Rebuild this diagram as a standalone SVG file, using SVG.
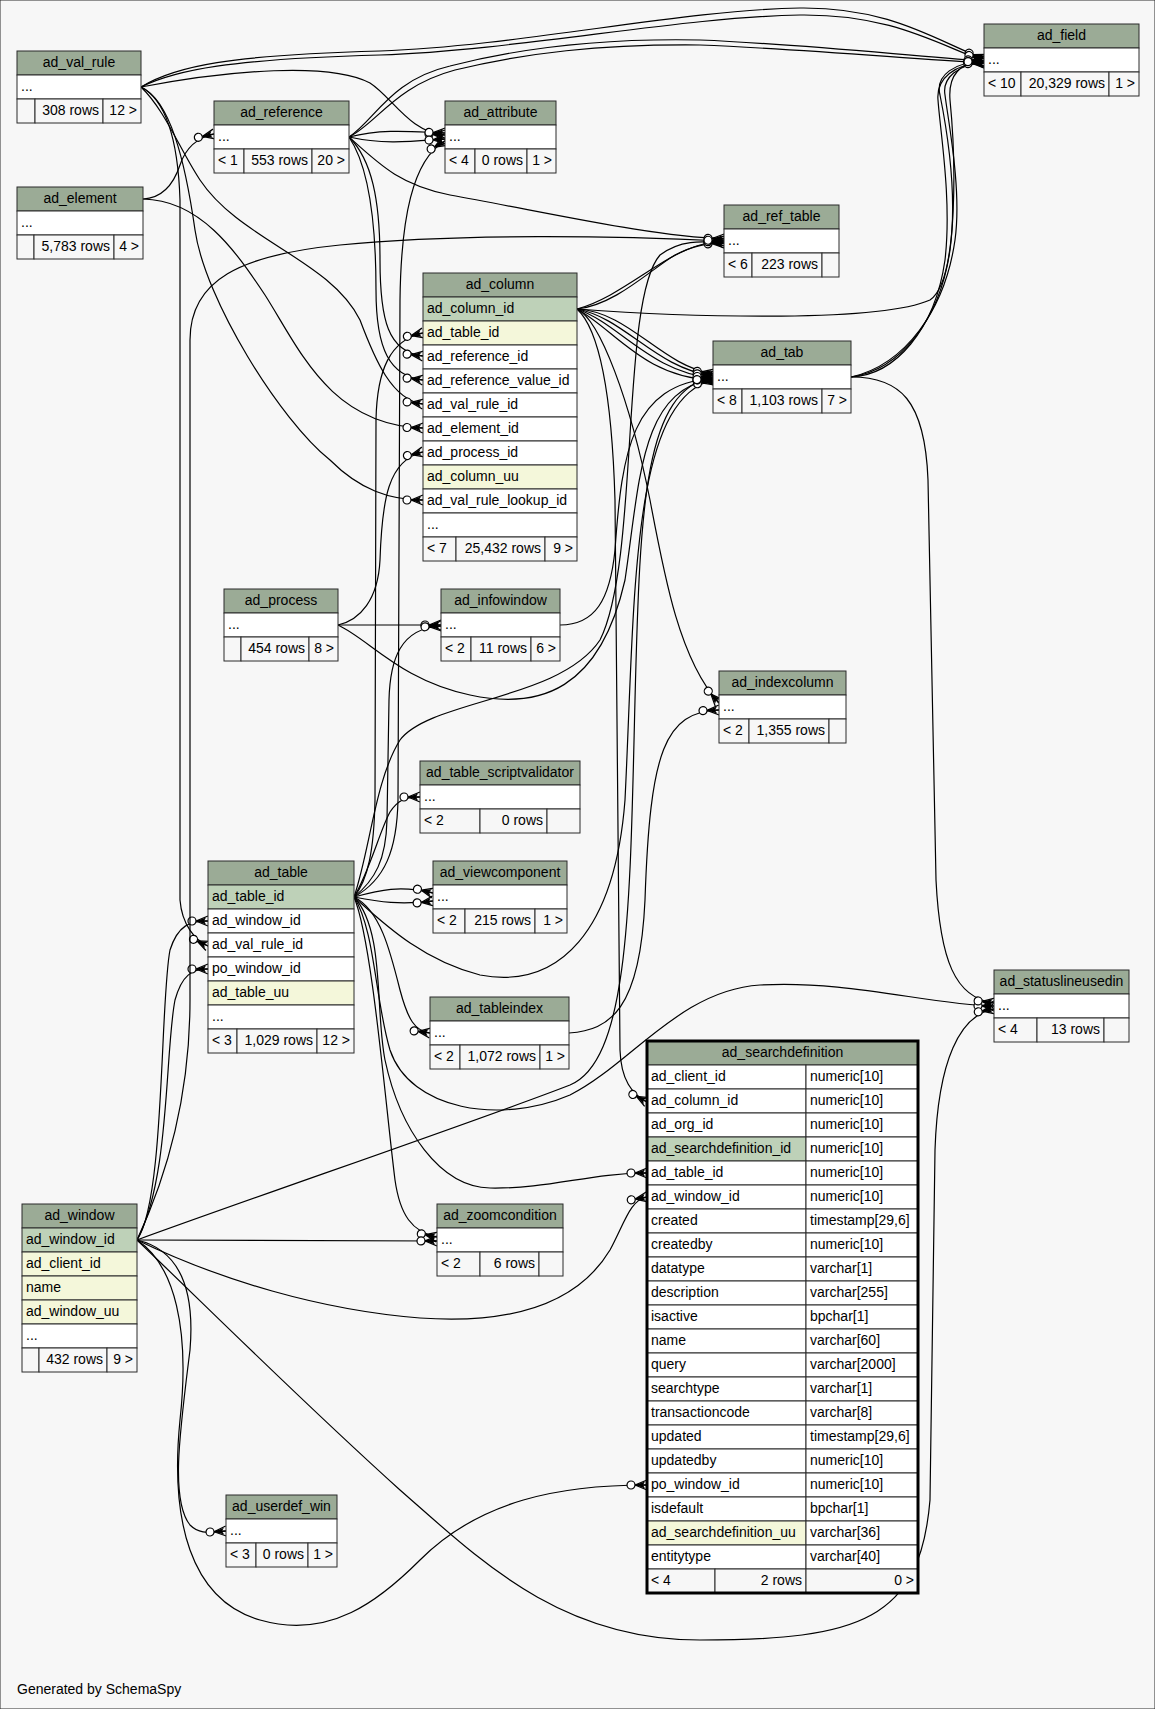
<svg xmlns="http://www.w3.org/2000/svg" width="1155" height="1709" viewBox="0 0 1155 1709">
<defs>
<style>
.h{fill:#9bab96}
.pk{fill:#bed1b8}
.ix{fill:#f4f7da}
.w{fill:#fff}
.f{fill:#f7f7f7}
rect{stroke:#2b2b2b;stroke-width:1}
text{font-family:"Liberation Sans",Arial,sans-serif;font-size:14px;fill:#000}
.m{text-anchor:middle}
.e{text-anchor:end}
.edge{fill:none;stroke:#000;stroke-width:1.2;marker-end:url(#cf)}
</style>
<marker id="cf" markerUnits="userSpaceOnUse" orient="auto" viewBox="-24 -12 26 24" markerWidth="26" markerHeight="24" refX="0" refY="0" overflow="visible">
<path d="M-12,0 L0,-5 M-12,0 L0,0 M-12,0 L0,5" fill="none" stroke="#000" stroke-width="1.3"/>
<path d="M-12,0 L-2,-3.5 L-4,0 L-2,3.5 Z" fill="#000"/>
<circle cx="-16" cy="0" r="4" fill="#fff" stroke="#000" stroke-width="1.2"/>
</marker>
</defs>
<rect x="0" y="0" width="1155" height="1709" fill="#f7f7f7" stroke="none"/>
<g id="edges">
<path class="edge" d="M141,87 C175,66 230,55 380,51 C520,46 680,10 800,8 C890,7 935,40 984,59"/>
<path class="edge" d="M141,87 C175,70 230,59 380,55 C520,50 680,17 800,15 C890,14 935,43 984,61"/>
<path class="edge" d="M349,137 C375,120 390,80 450,66 C520,48 600,38 700,40 C800,44 900,55 984,61"/>
<path class="edge" d="M349,137 C377,123 395,86 455,70 C525,53 600,44 700,45 C800,49 900,58 984,63"/>
<path class="edge" d="M141,87 C230,70 330,62 370,83 C392,97 410,133 445,135"/>
<path class="edge" d="M349,137 C385,128 415,132 445,133"/>
<path class="edge" d="M349,137 C385,145 415,141 445,139"/>
<path class="edge" d="M354,897 C385,880 397,850 398,800 L400,300 C401,220 412,160 445,141"/>
<path class="edge" d="M349,137 C380,165 400,185 450,195 C560,215 650,236 724,239"/>
<path class="edge" d="M349,137 C372,160 380,200 380,260 C380,320 388,352 423,356"/>
<path class="edge" d="M349,137 C368,165 376,220 376,290 C376,350 390,376 423,380"/>
<path class="edge" d="M141,87 C165,110 180,150 200,180 C240,240 330,260 360,320 C375,360 392,400 423,404"/>
<path class="edge" d="M141,87 C170,100 185,160 195,230 C205,300 280,420 330,460 C360,490 390,500 423,500"/>
<path class="edge" d="M141,87 C166,100 178,140 180,200 L180,900 C182,925 195,940 208,946"/>
<path class="edge" d="M143,199 C165,198 175,180 180,165 C185,150 195,138 214,134"/>
<path class="edge" d="M143,199 C200,200 235,250 265,295 C300,350 330,425 423,428"/>
<path class="edge" d="M354,897 C368,880 374,850 375,800 L376,420 C377,370 390,340 423,333"/>
<path class="edge" d="M338,625 C360,620 378,600 380,560 C382,500 388,460 423,452"/>
<path class="edge" d="M338,625 L441,625"/>
<path class="edge" d="M354,897 C375,880 386,860 387,820 L389,700 C390,660 400,628 441,626"/>
<path class="edge" d="M338,625 C370,640 400,680 470,695 C540,710 600,690 625,580 C640,480 640,390 713,379"/>
<path class="edge" d="M560,625 C595,625 610,600 615,550 C622,450 632,385 713,378"/>
<path class="edge" d="M354,897 C380,920 420,960 480,975 C560,990 615,930 625,800 C635,600 630,400 713,380"/>
<path class="edge" d="M137,1240 C260,1195 480,1120 570,1085 C630,1060 630,900 635,700 C640,500 645,390 713,377"/>
<path class="edge" d="M354,897 C375,930 375,1000 390,1050 C410,1110 500,1125 570,1095 C630,1065 680,990 760,985 C850,980 930,1005 994,1006"/>
<path class="edge" d="M851,377 C900,377 925,400 928,480 L936,880 C940,960 955,998 994,1003"/>
<path class="edge" d="M851,377 C900,370 940,320 950,250 C958,190 945,120 940,95 C935,75 955,62 984,61"/>
<path class="edge" d="M851,377 C895,375 935,330 945,260 C952,200 940,130 938,100 C936,78 955,64 984,62"/>
<path class="edge" d="M851,377 C905,365 945,310 955,240 C962,190 948,120 945,95 C942,78 958,64 984,63"/>
<path class="edge" d="M577,309 C700,318 880,322 930,300 C960,280 955,150 950,100 C948,75 960,62 984,61"/>
<path class="edge" d="M577,309 C610,300 640,275 670,258 C690,247 705,242 724,241"/>
<path class="edge" d="M577,309 C615,305 650,270 675,255 C695,245 705,244 724,243"/>
<path class="edge" d="M577,309 C630,312 660,365 713,374"/>
<path class="edge" d="M577,309 C625,318 655,368 713,376"/>
<path class="edge" d="M577,309 C620,324 650,372 713,378"/>
<path class="edge" d="M577,309 C615,330 645,378 713,380"/>
<path class="edge" d="M577,309 C600,320 630,400 650,500 C665,580 680,660 719,703"/>
<path class="edge" d="M569,1033 C610,1030 640,1010 645,900 C650,750 665,712 719,710"/>
<path class="edge" d="M577,309 C600,330 612,400 615,500 L620,1050 C621,1080 632,1094 647,1102"/>
<path class="edge" d="M354,897 C370,850 375,780 400,740 C430,700 560,700 600,640 C640,560 620,300 660,255 C680,240 700,241 724,243"/>
<path class="edge" d="M354,897 C370,870 380,830 390,812 C398,800 405,797 420,797"/>
<path class="edge" d="M354,897 C380,890 400,885 433,893"/>
<path class="edge" d="M354,897 C380,902 400,905 433,901"/>
<path class="edge" d="M354,897 C380,910 390,950 400,990 C408,1020 415,1031 430,1033"/>
<path class="edge" d="M354,897 C372,940 385,1100 395,1180 C400,1215 412,1232 437,1237"/>
<path class="edge" d="M354,897 C385,930 375,1010 385,1060 C400,1130 440,1187 490,1188 C550,1189 590,1173 647,1173"/>
<path class="edge" d="M137,1240 C165,1200 160,1000 170,950 C178,925 190,921 208,921"/>
<path class="edge" d="M137,1240 C170,1180 165,1050 175,1000 C182,975 192,969 208,969"/>
<path class="edge" d="M137,1240 C165,1180 190,1100 190,1000 L190,340 C190,280 240,255 340,245 C460,233 620,236 724,241"/>
<path class="edge" d="M137,1240 L437,1241"/>
<path class="edge" d="M137,1240 C220,1280 320,1310 420,1318 C520,1325 580,1300 610,1250 C625,1222 630,1200 647,1197"/>
<path class="edge" d="M137,1240 C175,1265 190,1330 180,1420 C170,1520 190,1600 260,1620 C330,1640 380,1600 420,1560 C480,1500 560,1485 647,1485"/>
<path class="edge" d="M137,1240 C180,1250 195,1290 190,1350 C180,1430 170,1500 190,1525 C200,1535 210,1532 226,1531"/>
<path class="edge" d="M137,1240 C200,1300 300,1400 400,1490 C480,1560 560,1640 700,1640 C860,1640 920,1620 930,1500 L935,1150 C938,1060 960,1015 994,1009"/>
</g>
<g id="ad_val_rule">
<rect class="h" x="17" y="51" width="124" height="24"/><text class="m" x="79" y="67">ad_val_rule</text>
<rect class="w" x="17" y="75" width="124" height="24"/><text x="21" y="91">...</text>
<rect class="f" x="17" y="99" width="18" height="24"/>
<rect class="f" x="35" y="99" width="68" height="24"/><text class="e" x="99" y="115">308 rows</text>
<rect class="f" x="103" y="99" width="38" height="24"/><text class="e" x="137" y="115">12 &gt;</text>
</g>
<g id="ad_reference">
<rect class="h" x="214" y="101" width="135" height="24"/><text class="m" x="281.5" y="117">ad_reference</text>
<rect class="w" x="214" y="125" width="135" height="24"/><text x="218" y="141">...</text>
<rect class="f" x="214" y="149" width="30" height="24"/><text x="218" y="165">&lt; 1</text>
<rect class="f" x="244" y="149" width="68" height="24"/><text class="e" x="308" y="165">553 rows</text>
<rect class="f" x="312" y="149" width="37" height="24"/><text class="e" x="345" y="165">20 &gt;</text>
</g>
<g id="ad_element">
<rect class="h" x="17" y="187" width="126" height="24"/><text class="m" x="80" y="203">ad_element</text>
<rect class="w" x="17" y="211" width="126" height="24"/><text x="21" y="227">...</text>
<rect class="f" x="17" y="235" width="17" height="24"/>
<rect class="f" x="34" y="235" width="80" height="24"/><text class="e" x="110" y="251">5,783 rows</text>
<rect class="f" x="114" y="235" width="29" height="24"/><text class="e" x="139" y="251">4 &gt;</text>
</g>
<g id="ad_attribute">
<rect class="h" x="445" y="101" width="111" height="24"/><text class="m" x="500.5" y="117">ad_attribute</text>
<rect class="w" x="445" y="125" width="111" height="24"/><text x="449" y="141">...</text>
<rect class="f" x="445" y="149" width="30" height="24"/><text x="449" y="165">&lt; 4</text>
<rect class="f" x="475" y="149" width="52" height="24"/><text class="e" x="523" y="165">0 rows</text>
<rect class="f" x="527" y="149" width="29" height="24"/><text class="e" x="552" y="165">1 &gt;</text>
</g>
<g id="ad_field">
<rect class="h" x="984" y="24" width="155" height="24"/><text class="m" x="1061.5" y="40">ad_field</text>
<rect class="w" x="984" y="48" width="155" height="24"/><text x="988" y="64">...</text>
<rect class="f" x="984" y="72" width="37" height="24"/><text x="988" y="88">&lt; 10</text>
<rect class="f" x="1021" y="72" width="88" height="24"/><text class="e" x="1105" y="88">20,329 rows</text>
<rect class="f" x="1109" y="72" width="30" height="24"/><text class="e" x="1135" y="88">1 &gt;</text>
</g>
<g id="ad_ref_table">
<rect class="h" x="724" y="205" width="115" height="24"/><text class="m" x="781.5" y="221">ad_ref_table</text>
<rect class="w" x="724" y="229" width="115" height="24"/><text x="728" y="245">...</text>
<rect class="f" x="724" y="253" width="28" height="24"/><text x="728" y="269">&lt; 6</text>
<rect class="f" x="752" y="253" width="70" height="24"/><text class="e" x="818" y="269">223 rows</text>
<rect class="f" x="822" y="253" width="17" height="24"/>
</g>
<g id="ad_column">
<rect class="h" x="423" y="273" width="154" height="24"/><text class="m" x="500" y="289">ad_column</text>
<rect class="pk" x="423" y="297" width="154" height="24"/><text x="427" y="313">ad_column_id</text>
<rect class="ix" x="423" y="321" width="154" height="24"/><text x="427" y="337">ad_table_id</text>
<rect class="w" x="423" y="345" width="154" height="24"/><text x="427" y="361">ad_reference_id</text>
<rect class="w" x="423" y="369" width="154" height="24"/><text x="427" y="385">ad_reference_value_id</text>
<rect class="w" x="423" y="393" width="154" height="24"/><text x="427" y="409">ad_val_rule_id</text>
<rect class="w" x="423" y="417" width="154" height="24"/><text x="427" y="433">ad_element_id</text>
<rect class="w" x="423" y="441" width="154" height="24"/><text x="427" y="457">ad_process_id</text>
<rect class="ix" x="423" y="465" width="154" height="24"/><text x="427" y="481">ad_column_uu</text>
<rect class="w" x="423" y="489" width="154" height="24"/><text x="427" y="505">ad_val_rule_lookup_id</text>
<rect class="w" x="423" y="513" width="154" height="24"/><text x="427" y="529">...</text>
<rect class="f" x="423" y="537" width="33" height="24"/><text x="427" y="553">&lt; 7</text>
<rect class="f" x="456" y="537" width="89" height="24"/><text class="e" x="541" y="553">25,432 rows</text>
<rect class="f" x="545" y="537" width="32" height="24"/><text class="e" x="573" y="553">9 &gt;</text>
</g>
<g id="ad_tab">
<rect class="h" x="713" y="341" width="138" height="24"/><text class="m" x="782" y="357">ad_tab</text>
<rect class="w" x="713" y="365" width="138" height="24"/><text x="717" y="381">...</text>
<rect class="f" x="713" y="389" width="29" height="24"/><text x="717" y="405">&lt; 8</text>
<rect class="f" x="742" y="389" width="80" height="24"/><text class="e" x="818" y="405">1,103 rows</text>
<rect class="f" x="822" y="389" width="29" height="24"/><text class="e" x="847" y="405">7 &gt;</text>
</g>
<g id="ad_process">
<rect class="h" x="224" y="589" width="114" height="24"/><text class="m" x="281" y="605">ad_process</text>
<rect class="w" x="224" y="613" width="114" height="24"/><text x="228" y="629">...</text>
<rect class="f" x="224" y="637" width="17" height="24"/>
<rect class="f" x="241" y="637" width="68" height="24"/><text class="e" x="305" y="653">454 rows</text>
<rect class="f" x="309" y="637" width="29" height="24"/><text class="e" x="334" y="653">8 &gt;</text>
</g>
<g id="ad_infowindow">
<rect class="h" x="441" y="589" width="119" height="24"/><text class="m" x="500.5" y="605">ad_infowindow</text>
<rect class="w" x="441" y="613" width="119" height="24"/><text x="445" y="629">...</text>
<rect class="f" x="441" y="637" width="30" height="24"/><text x="445" y="653">&lt; 2</text>
<rect class="f" x="471" y="637" width="60" height="24"/><text class="e" x="527" y="653">11 rows</text>
<rect class="f" x="531" y="637" width="29" height="24"/><text class="e" x="556" y="653">6 &gt;</text>
</g>
<g id="ad_indexcolumn">
<rect class="h" x="719" y="671" width="127" height="24"/><text class="m" x="782.5" y="687">ad_indexcolumn</text>
<rect class="w" x="719" y="695" width="127" height="24"/><text x="723" y="711">...</text>
<rect class="f" x="719" y="719" width="30" height="24"/><text x="723" y="735">&lt; 2</text>
<rect class="f" x="749" y="719" width="80" height="24"/><text class="e" x="825" y="735">1,355 rows</text>
<rect class="f" x="829" y="719" width="17" height="24"/>
</g>
<g id="ad_table_scriptvalidator">
<rect class="h" x="420" y="761" width="160" height="24"/><text class="m" x="500" y="777">ad_table_scriptvalidator</text>
<rect class="w" x="420" y="785" width="160" height="24"/><text x="424" y="801">...</text>
<rect class="f" x="420" y="809" width="60" height="24"/><text x="424" y="825">&lt; 2</text>
<rect class="f" x="480" y="809" width="67" height="24"/><text class="e" x="543" y="825">0 rows</text>
<rect class="f" x="547" y="809" width="33" height="24"/>
</g>
<g id="ad_table">
<rect class="h" x="208" y="861" width="146" height="24"/><text class="m" x="281" y="877">ad_table</text>
<rect class="pk" x="208" y="885" width="146" height="24"/><text x="212" y="901">ad_table_id</text>
<rect class="w" x="208" y="909" width="146" height="24"/><text x="212" y="925">ad_window_id</text>
<rect class="w" x="208" y="933" width="146" height="24"/><text x="212" y="949">ad_val_rule_id</text>
<rect class="w" x="208" y="957" width="146" height="24"/><text x="212" y="973">po_window_id</text>
<rect class="ix" x="208" y="981" width="146" height="24"/><text x="212" y="997">ad_table_uu</text>
<rect class="w" x="208" y="1005" width="146" height="24"/><text x="212" y="1021">...</text>
<rect class="f" x="208" y="1029" width="29" height="24"/><text x="212" y="1045">&lt; 3</text>
<rect class="f" x="237" y="1029" width="80" height="24"/><text class="e" x="313" y="1045">1,029 rows</text>
<rect class="f" x="317" y="1029" width="37" height="24"/><text class="e" x="350" y="1045">12 &gt;</text>
</g>
<g id="ad_viewcomponent">
<rect class="h" x="433" y="861" width="134" height="24"/><text class="m" x="500" y="877">ad_viewcomponent</text>
<rect class="w" x="433" y="885" width="134" height="24"/><text x="437" y="901">...</text>
<rect class="f" x="433" y="909" width="32" height="24"/><text x="437" y="925">&lt; 2</text>
<rect class="f" x="465" y="909" width="70" height="24"/><text class="e" x="531" y="925">215 rows</text>
<rect class="f" x="535" y="909" width="32" height="24"/><text class="e" x="563" y="925">1 &gt;</text>
</g>
<g id="ad_tableindex">
<rect class="h" x="430" y="997" width="139" height="24"/><text class="m" x="499.5" y="1013">ad_tableindex</text>
<rect class="w" x="430" y="1021" width="139" height="24"/><text x="434" y="1037">...</text>
<rect class="f" x="430" y="1045" width="30" height="24"/><text x="434" y="1061">&lt; 2</text>
<rect class="f" x="460" y="1045" width="80" height="24"/><text class="e" x="536" y="1061">1,072 rows</text>
<rect class="f" x="540" y="1045" width="29" height="24"/><text class="e" x="565" y="1061">1 &gt;</text>
</g>
<g id="ad_statuslineusedin">
<rect class="h" x="994" y="970" width="135" height="24"/><text class="m" x="1061.5" y="986">ad_statuslineusedin</text>
<rect class="w" x="994" y="994" width="135" height="24"/><text x="998" y="1010">...</text>
<rect class="f" x="994" y="1018" width="43" height="24"/><text x="998" y="1034">&lt; 4</text>
<rect class="f" x="1037" y="1018" width="67" height="24"/><text class="e" x="1100" y="1034">13 rows</text>
<rect class="f" x="1104" y="1018" width="25" height="24"/>
</g>
<g id="ad_searchdefinition">
<rect class="h" x="647" y="1041" width="271" height="24"/><text class="m" x="782.5" y="1057">ad_searchdefinition</text>
<rect class="w" x="647" y="1065" width="159" height="24"/><text x="651" y="1081">ad_client_id</text><rect class="w" x="806" y="1065" width="112" height="24"/><text x="810" y="1081">numeric[10]</text>
<rect class="w" x="647" y="1089" width="159" height="24"/><text x="651" y="1105">ad_column_id</text><rect class="w" x="806" y="1089" width="112" height="24"/><text x="810" y="1105">numeric[10]</text>
<rect class="w" x="647" y="1113" width="159" height="24"/><text x="651" y="1129">ad_org_id</text><rect class="w" x="806" y="1113" width="112" height="24"/><text x="810" y="1129">numeric[10]</text>
<rect class="pk" x="647" y="1137" width="159" height="24"/><text x="651" y="1153">ad_searchdefinition_id</text><rect class="w" x="806" y="1137" width="112" height="24"/><text x="810" y="1153">numeric[10]</text>
<rect class="w" x="647" y="1161" width="159" height="24"/><text x="651" y="1177">ad_table_id</text><rect class="w" x="806" y="1161" width="112" height="24"/><text x="810" y="1177">numeric[10]</text>
<rect class="w" x="647" y="1185" width="159" height="24"/><text x="651" y="1201">ad_window_id</text><rect class="w" x="806" y="1185" width="112" height="24"/><text x="810" y="1201">numeric[10]</text>
<rect class="w" x="647" y="1209" width="159" height="24"/><text x="651" y="1225">created</text><rect class="w" x="806" y="1209" width="112" height="24"/><text x="810" y="1225">timestamp[29,6]</text>
<rect class="w" x="647" y="1233" width="159" height="24"/><text x="651" y="1249">createdby</text><rect class="w" x="806" y="1233" width="112" height="24"/><text x="810" y="1249">numeric[10]</text>
<rect class="w" x="647" y="1257" width="159" height="24"/><text x="651" y="1273">datatype</text><rect class="w" x="806" y="1257" width="112" height="24"/><text x="810" y="1273">varchar[1]</text>
<rect class="w" x="647" y="1281" width="159" height="24"/><text x="651" y="1297">description</text><rect class="w" x="806" y="1281" width="112" height="24"/><text x="810" y="1297">varchar[255]</text>
<rect class="w" x="647" y="1305" width="159" height="24"/><text x="651" y="1321">isactive</text><rect class="w" x="806" y="1305" width="112" height="24"/><text x="810" y="1321">bpchar[1]</text>
<rect class="w" x="647" y="1329" width="159" height="24"/><text x="651" y="1345">name</text><rect class="w" x="806" y="1329" width="112" height="24"/><text x="810" y="1345">varchar[60]</text>
<rect class="w" x="647" y="1353" width="159" height="24"/><text x="651" y="1369">query</text><rect class="w" x="806" y="1353" width="112" height="24"/><text x="810" y="1369">varchar[2000]</text>
<rect class="w" x="647" y="1377" width="159" height="24"/><text x="651" y="1393">searchtype</text><rect class="w" x="806" y="1377" width="112" height="24"/><text x="810" y="1393">varchar[1]</text>
<rect class="w" x="647" y="1401" width="159" height="24"/><text x="651" y="1417">transactioncode</text><rect class="w" x="806" y="1401" width="112" height="24"/><text x="810" y="1417">varchar[8]</text>
<rect class="w" x="647" y="1425" width="159" height="24"/><text x="651" y="1441">updated</text><rect class="w" x="806" y="1425" width="112" height="24"/><text x="810" y="1441">timestamp[29,6]</text>
<rect class="w" x="647" y="1449" width="159" height="24"/><text x="651" y="1465">updatedby</text><rect class="w" x="806" y="1449" width="112" height="24"/><text x="810" y="1465">numeric[10]</text>
<rect class="w" x="647" y="1473" width="159" height="24"/><text x="651" y="1489">po_window_id</text><rect class="w" x="806" y="1473" width="112" height="24"/><text x="810" y="1489">numeric[10]</text>
<rect class="w" x="647" y="1497" width="159" height="24"/><text x="651" y="1513">isdefault</text><rect class="w" x="806" y="1497" width="112" height="24"/><text x="810" y="1513">bpchar[1]</text>
<rect class="ix" x="647" y="1521" width="159" height="24"/><text x="651" y="1537">ad_searchdefinition_uu</text><rect class="w" x="806" y="1521" width="112" height="24"/><text x="810" y="1537">varchar[36]</text>
<rect class="w" x="647" y="1545" width="159" height="24"/><text x="651" y="1561">entitytype</text><rect class="w" x="806" y="1545" width="112" height="24"/><text x="810" y="1561">varchar[40]</text>
<rect class="f" x="647" y="1569" width="68" height="24"/><text x="651" y="1585">&lt; 4</text>
<rect class="f" x="715" y="1569" width="91" height="24"/><text class="e" x="802" y="1585">2 rows</text>
<rect class="f" x="806" y="1569" width="112" height="24"/><text class="e" x="914" y="1585">0 &gt;</text>
<rect x="647" y="1041" width="271" height="552" fill="none" style="stroke:#000;stroke-width:3"/>
</g>
<g id="ad_window">
<rect class="h" x="22" y="1204" width="115" height="24"/><text class="m" x="79.5" y="1220">ad_window</text>
<rect class="pk" x="22" y="1228" width="115" height="24"/><text x="26" y="1244">ad_window_id</text>
<rect class="ix" x="22" y="1252" width="115" height="24"/><text x="26" y="1268">ad_client_id</text>
<rect class="ix" x="22" y="1276" width="115" height="24"/><text x="26" y="1292">name</text>
<rect class="ix" x="22" y="1300" width="115" height="24"/><text x="26" y="1316">ad_window_uu</text>
<rect class="w" x="22" y="1324" width="115" height="24"/><text x="26" y="1340">...</text>
<rect class="f" x="22" y="1348" width="17" height="24"/>
<rect class="f" x="39" y="1348" width="68" height="24"/><text class="e" x="103" y="1364">432 rows</text>
<rect class="f" x="107" y="1348" width="30" height="24"/><text class="e" x="133" y="1364">9 &gt;</text>
</g>
<g id="ad_zoomcondition">
<rect class="h" x="437" y="1204" width="126" height="24"/><text class="m" x="500" y="1220">ad_zoomcondition</text>
<rect class="w" x="437" y="1228" width="126" height="24"/><text x="441" y="1244">...</text>
<rect class="f" x="437" y="1252" width="43" height="24"/><text x="441" y="1268">&lt; 2</text>
<rect class="f" x="480" y="1252" width="59" height="24"/><text class="e" x="535" y="1268">6 rows</text>
<rect class="f" x="539" y="1252" width="24" height="24"/>
</g>
<g id="ad_userdef_win">
<rect class="h" x="226" y="1495" width="111" height="24"/><text class="m" x="281.5" y="1511">ad_userdef_win</text>
<rect class="w" x="226" y="1519" width="111" height="24"/><text x="230" y="1535">...</text>
<rect class="f" x="226" y="1543" width="30" height="24"/><text x="230" y="1559">&lt; 3</text>
<rect class="f" x="256" y="1543" width="52" height="24"/><text class="e" x="304" y="1559">0 rows</text>
<rect class="f" x="308" y="1543" width="29" height="24"/><text class="e" x="333" y="1559">1 &gt;</text>
</g>
<text x="17" y="1694">Generated by SchemaSpy</text>
</svg>
